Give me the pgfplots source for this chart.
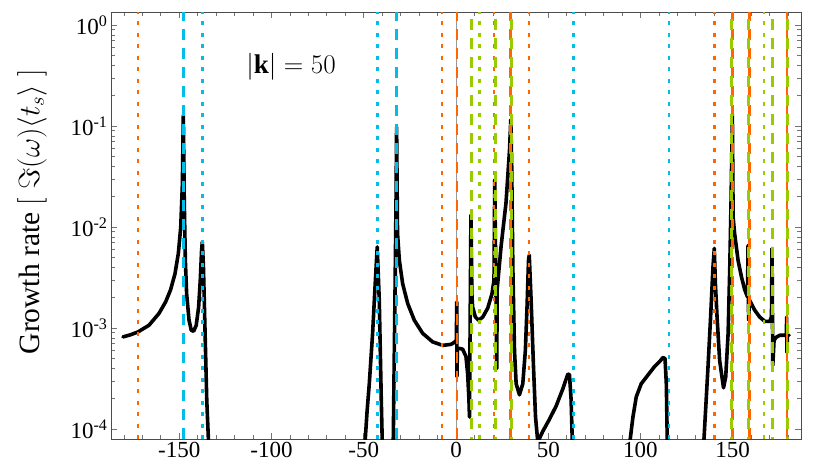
\RequirePackage{fix-cm}
\documentclass[border=0pt]{standalone}
\usepackage{fontspec}
\setmainfont{Liberation Serif}
\usepackage{pgfplots}
\pgfplotsset{compat=1.18}
\definecolor{lorange}{RGB}{255,102,0}
\definecolor{lcyan}{RGB}{0,190,230}
\definecolor{lgreen}{RGB}{153,204,0}
\tikzset{
  vdot/.style={line width=2.6pt, dash pattern=on 4pt off 7.5pt},
  vdash/.style={line width=2.6pt, dash pattern=on 11pt off 8pt},
  curve/.style={black, line width=3.6pt, line join=round, line cap=round},
}
\begin{document}
\begin{tikzpicture}
\begin{axis}[
  at={(0,0)}, anchor=south west,
  scale only axis, width=690pt, height=427pt,
  xmin=-187, xmax=187, ymode=log, ymin=8e-5, ymax=1.35,
  xtick={-150,-100,...,150},
  minor xtick={-180,-170,...,180},
  xticklabels={\textrm{-150},\textrm{-100},\textrm{-50},\textrm{0},\textrm{50},\textrm{100},\textrm{150}},
  ytick={1e-4,1e-3,1e-2,1e-1,1},
  yticklabels={\textrm{10\textsuperscript{-4}},\textrm{10\textsuperscript{-3}},\textrm{10\textsuperscript{-2}},\textrm{10\textsuperscript{-1}},\textrm{10\textsuperscript{0}}},
  tick align=inside,
  major tick length=6pt, minor tick length=4pt,
  every tick/.style={black!55, line width=0.8pt},
  axis line style={black!70, line width=0.9pt},
  ticklabel style={font=\fontsize{23}{23}\selectfont},
  ylabel={Growth rate $[\;\Im(\omega)\langle t_s\rangle\;]$},
  ylabel style={font=\fontsize{29.5}{29.5}\selectfont, at={(axis description cs:-0.1145,0.532)}, anchor=center},
  clip=true,
]
% zero line
\addplot[black!40, line width=0.8pt] coordinates {(0,8e-5) (0,1.35)};
% curve segments
\addplot[curve] coordinates {
(-180.5,8.2e-4) (-176.5,8.6e-4) (-172.4,9.18e-4) (-166.4,1.07e-3) (-161,1.40e-3) (-157.4,1.82e-3)
(-154.7,2.4e-3) (-152.3,3.47e-3) (-150.5,5.5e-3) (-149.2,0.01) (-148.3,0.0269) (-147.8,0.129)
(-147.3,0.0186) (-146.7,4.68e-3) (-146.0,2.19e-3) (-144.7,1.2e-3) (-143.5,9.55e-4) (-142.2,9.33e-4)
(-140.8,1.07e-3) (-139.5,1.62e-3) (-138.6,3.02e-3) (-137.9,5.89e-3) (-137.5,7.16e-3) (-136.9,4.07e-3)
(-136.0,8.91e-4) (-135.1,1.95e-4) (-134.2,7.9e-5) (-133.8,5e-5)
};
\addplot[curve] coordinates {
(-49.5,5e-5) (-49.2,7.9e-5) (-48.2,1.5e-4) (-47.0,2.82e-4) (-45.2,8.91e-4) (-43.8,2.75e-3) (-42.7,6.38e-3)
(-41.6,1.91e-3) (-40.5,1.95e-4) (-40.0,7.9e-5) (-39.8,5e-5)
};
\addplot[curve] coordinates {
(-34.2,5e-5) (-34.0,7.9e-5) (-33.1,1.91e-3) (-32.5,0.0186) (-32.2,0.098) (-31.7,8.7e-3) (-30.7,4.68e-3)
(-28.9,2.75e-3) (-26.2,1.76e-3) (-22.6,1.2e-3) (-18.1,8.91e-4) (-12.7,7.33e-4) (-7.2,6.76e-4)
(-2.7,6.92e-4) (-0.9,7.24e-4) (0.2,7.6e-4) (0.4,1.82e-3) (0.5,3.31e-4) (0.8,6.3e-4) (1.8,6.31e-4)
(3.6,6.2e-4) (5.4,5.25e-4) (6.3,3.55e-4) (7.0,2.0e-4) (7.3,1.32e-4) (8.1,0.0132) (8.6,2.2e-3)
(9.0,1.62e-3) (10.5,1.29e-3) (12.3,1.2e-3) (14.5,1.29e-3) (17.2,1.58e-3) (19.5,2.19e-3) (20.6,3.0e-3)
(21.0,0.0295) (22.1,3.98e-4) (22.3,2.4e-3) (24.4,6.38e-3) (27.1,0.0174) (29.0,0.0575) (29.7,0.116)
(30.2,0.0398) (30.8,4.07e-3) (31.7,6.03e-4) (32.6,2.82e-4) (34.4,2.19e-4) (36.2,2.82e-4) (37.6,6.03e-4)
(38.5,1.62e-3) (39.3,4.68e-3) (39.7,5.3e-3) (40.7,1.91e-3) (42.0,4.17e-4) (43.1,1.32e-4) (44.3,7.6e-5)
(44.8,7.8e-5) (47.0,9.5e-5) (50.7,1.26e-4) (54.3,1.7e-4) (57.9,2.51e-4) (60.6,3.51e-4) (61.5,3.47e-4)
(62.4,1.95e-4) (63.0,7.9e-5) (63.2,5e-5)
};
\addplot[curve] coordinates {
(94.2,5e-5) (94.4,7.9e-5) (95.9,1.32e-4) (97.7,2.09e-4) (100.4,2.82e-4) (104.0,3.43e-4) (107.6,4.17e-4)
(110.4,4.68e-4) (112.2,5.13e-4) (113.3,5.0e-4) (114.0,2.82e-4) (114.5,7.9e-5) (114.6,5e-5)
};
\addplot[curve] coordinates {
(134.2,5e-5) (134.4,7.9e-5) (136.6,4.17e-4) (138.0,1.29e-3) (139.3,4.07e-3) (140.0,6.17e-3)
(140.6,2.75e-3) (141.5,1.29e-3) (142.9,4.79e-4) (145.0,2.57e-4) (146.2,3.31e-4) (147.5,8.91e-4)
(148.4,4.07e-3) (149.1,0.0186) (149.8,0.132) (150.2,0.0126) (151.0,8.7e-3) (152.9,4.68e-3)
(154.7,3.24e-3) (156.5,2.4e-3) (158.0,2.04e-3) (158.3,6.6e-3) (158.6,1.2e-3) (159.0,1.91e-3)
(161.9,1.51e-3) (164.6,1.29e-3) (167.4,1.17e-3) (170.1,1.17e-3) (171.0,1.3e-3) (171.3,6.17e-3)
(171.7,4.27e-4) (172.4,7.59e-4) (173.5,8.13e-4) (175.5,8.51e-4) (178.5,8.51e-4) (179.1,8.3e-4)
(179.2,1.29e-3) (179.4,5.75e-4) (179.6,8.51e-4) (180.5,8.51e-4)
};
% vertical lines
\pgfplotsinvokeforeach{-172.4,-7.6,20.5,39.6,140.0}{
  \addplot[vdot, lorange] coordinates {(#1,8e-5) (#1,1.35)};
}
\pgfplotsinvokeforeach{0.6,29.6,150.0,159.0,179.5}{
  \addplot[vdash, lorange] coordinates {(#1,8e-5) (#1,1.35)};
}
\pgfplotsinvokeforeach{12.6,167.0}{
  \addplot[vdot, lgreen] coordinates {(#1,8e-5) (#1,1.35)};
}
\pgfplotsinvokeforeach{8.3,21.4,30.2,149.4,158.5,171.5,179.8}{
  \addplot[vdash, lgreen, dash phase=9pt] coordinates {(#1,8e-5) (#1,1.35)};
}
\pgfplotsinvokeforeach{-137.5,-42.5,63.7,115.5}{
  \addplot[vdot, lcyan] coordinates {(#1,8e-5) (#1,1.35)};
}
\pgfplotsinvokeforeach{-147.8,-32.2}{
  \addplot[vdash, lcyan] coordinates {(#1,8e-5) (#1,1.35)};
}
\node at (axis description cs:0.261,0.871) {\fontsize{27}{27}\selectfont $|\mathbf{k}| = 50$};
\end{axis}
\path[use as bounding box] (-111pt,-30pt) rectangle (703pt,439pt);
\end{tikzpicture}
\end{document}
